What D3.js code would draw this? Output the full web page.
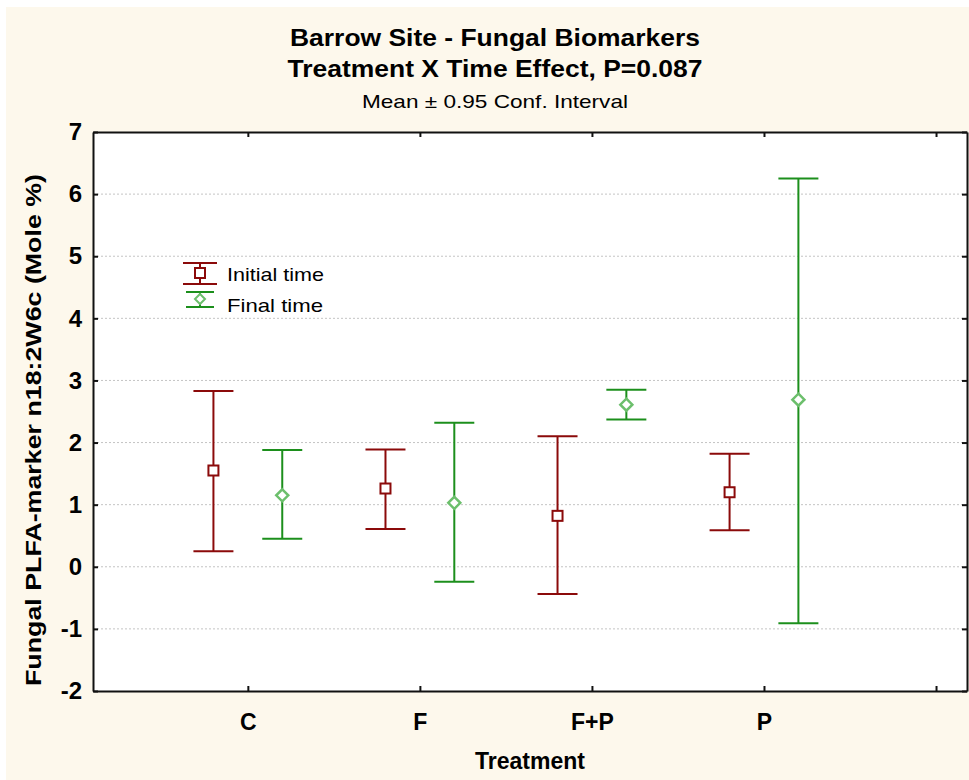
<!DOCTYPE html>
<html>
<head>
<meta charset="utf-8">
<script src="https://cdn.jsdelivr.net/npm/d3@7"></script>
<style>
  html, body { margin: 0; padding: 0; background: #fff; }
  svg { display: block; }
  text { font-family: Arial, "Liberation Sans", sans-serif; }
</style>
</head>
<body>
<svg id="chart" width="969" height="780"></svg>
<script>
// values
let categories = ["C", "F", "F+P", "P"];
let initialMean = [1.55, 1.26, 0.82, 1.20];
let initialLow = [0.25, 0.61, -0.44, 0.59];
let initialHigh = [2.83, 1.89, 2.10, 1.82];
let finalMean = [1.15, 1.03, 2.61, 2.69];
let finalLow = [0.45, -0.24, 2.37, -0.91];
let finalHigh = [1.88, 2.32, 2.85, 6.25];
let yTicks = [-2, -1, 0, 1, 2, 3, 4, 5, 6, 7];

let svg = d3.select("#chart"),
    width = 969,
    height = 780,
    margin = {top: 132, right: 2, bottom: 89, left: 93};

let red = "#8b0a0a", green = "#1c8f1c", lightGreen = "#6cbf6c";

// cream background with thin white edge on top / left
svg.append("rect").attr("x", 6).attr("y", 7)
    .attr("width", width - 6).attr("height", height - 7)
    .attr("fill", "#fdf8ec");

let x = d3.scaleLinear()
    .domain([0.1, 5.18])
    .range([margin.left, width - margin.right]);

let y = d3.scaleLinear()
    .domain([-2, 7])
    .range([height - margin.bottom, margin.top]);

let plotL = x.range()[0], plotR = x.range()[1],
    plotT = y.range()[1], plotB = y.range()[0];

svg.append("rect")
    .attr("x", plotL).attr("y", plotT)
    .attr("width", plotR - plotL).attr("height", plotB - plotT)
    .attr("fill", "#fff");

// grid
svg.append("g").selectAll("line")
    .data(yTicks.slice(1, -1))
    .join("line")
    .attr("x1", plotL).attr("x2", plotR)
    .attr("y1", d => y(d)).attr("y2", d => y(d))
    .attr("stroke", "#c4c4c4")
    .attr("stroke-dasharray", "2,2");

// axes
let catPos = [1, 2, 3, 4, 5];
svg.append("g")
    .attr("transform", `translate(0,${plotB})`)
    .call(d3.axisBottom(x).tickValues(catPos).tickSizeInner(-5).tickSizeOuter(0)
        .tickFormat(d => categories[d - 1] || ""))
    .call(g => g.selectAll("text").attr("dy", "1.55em")
        .attr("font-size", 23).attr("font-weight", "bold").attr("fill", "#000"));

svg.append("g")
    .attr("transform", `translate(0,${plotT})`)
    .call(d3.axisTop(x).tickValues(catPos).tickSizeInner(-5).tickSizeOuter(0).tickFormat(""));

svg.append("g")
    .attr("transform", `translate(${plotL},0)`)
    .call(d3.axisLeft(y).tickValues(yTicks).tickSizeInner(-5).tickSizeOuter(0).tickPadding(11)
        .tickFormat(d => String(d)))
    .call(g => g.selectAll("text")
        .attr("font-size", 24).attr("font-weight", "bold").attr("fill", "#000"));

svg.append("g")
    .attr("transform", `translate(${plotR},0)`)
    .call(d3.axisRight(y).tickValues(yTicks).tickSizeInner(-5).tickSizeOuter(0).tickFormat(""));

svg.selectAll(".domain").attr("stroke", "#111").attr("stroke-width", 2);
svg.selectAll(".tick line").attr("stroke", "#111").attr("stroke-width", 2);

// error bars
function drawSeries(mean, low, high, offset, color, marker) {
    let g = svg.append("g");
    let cap = 20;
    categories.forEach(function (c, i) {
        let cx = x(i + 1 + offset);
        g.append("line")
            .attr("x1", cx).attr("x2", cx)
            .attr("y1", y(low[i])).attr("y2", y(high[i]))
            .attr("stroke", color).attr("stroke-width", 2);
        [low[i], high[i]].forEach(function (v) {
            g.append("line")
                .attr("x1", cx - cap).attr("x2", cx + cap)
                .attr("y1", y(v)).attr("y2", y(v))
                .attr("stroke", color).attr("stroke-width", 2);
        });
        marker(g, cx, y(mean[i]));
    });
}

function squareMarker(g, cx, cy) {
    g.append("rect")
        .attr("x", cx - 5).attr("y", cy - 5)
        .attr("width", 10).attr("height", 10)
        .attr("fill", "#fff").attr("stroke", red).attr("stroke-width", 2);
}

function diamondMarker(g, cx, cy) {
    g.append("path")
        .attr("d", `M${cx},${cy - 6}L${cx + 6},${cy}L${cx},${cy + 6}L${cx - 6},${cy}Z`)
        .attr("fill", "#fff").attr("stroke", lightGreen).attr("stroke-width", 2.5);
}

drawSeries(initialMean, initialLow, initialHigh, -0.2, red, squareMarker);
drawSeries(finalMean, finalLow, finalHigh, 0.2, green, diamondMarker);

// legend
let legend = svg.append("g");
let lx = 200;
[[263, 284], [292, 307]].forEach(function (caps, k) {
    let color = k === 0 ? red : green;
    let hw = k === 0 ? 17 : 14;
    legend.append("line").attr("x1", lx).attr("x2", lx)
        .attr("y1", caps[0]).attr("y2", caps[1])
        .attr("stroke", color).attr("stroke-width", 2);
    caps.forEach(function (cy) {
        legend.append("line").attr("x1", lx - hw).attr("x2", lx + hw)
            .attr("y1", cy).attr("y2", cy)
            .attr("stroke", color).attr("stroke-width", 2);
    });
});
squareMarker(legend, lx, 273);
legend.append("path")
    .attr("d", `M${lx},294L${lx + 5},299L${lx},304L${lx - 5},299Z`)
    .attr("fill", "#fff").attr("stroke", lightGreen).attr("stroke-width", 2);
legend.append("text").attr("x", 227).attr("y", 281).attr("font-size", 19)
    .attr("textLength", 97).attr("lengthAdjust", "spacingAndGlyphs").text("Initial time");
legend.append("text").attr("x", 227).attr("y", 312).attr("font-size", 19)
    .attr("textLength", 96).attr("lengthAdjust", "spacingAndGlyphs").text("Final time");

// titles
let cxTitle = 495;
svg.append("text").attr("x", cxTitle).attr("y", 46)
    .attr("text-anchor", "middle").attr("font-size", 24).attr("font-weight", "bold")
    .attr("textLength", 410).attr("lengthAdjust", "spacingAndGlyphs")
    .text("Barrow Site - Fungal Biomarkers");
svg.append("text").attr("x", cxTitle).attr("y", 77)
    .attr("text-anchor", "middle").attr("font-size", 24).attr("font-weight", "bold")
    .attr("textLength", 415).attr("lengthAdjust", "spacingAndGlyphs")
    .text("Treatment X Time Effect, P=0.087");
svg.append("text").attr("x", cxTitle).attr("y", 108)
    .attr("text-anchor", "middle").attr("font-size", 19)
    .attr("textLength", 266).attr("lengthAdjust", "spacingAndGlyphs")
    .text("Mean ± 0.95 Conf. Interval");

svg.append("text").attr("x", 530).attr("y", 769)
    .attr("text-anchor", "middle").attr("font-size", 23).attr("font-weight", "bold")
    .text("Treatment");

svg.append("text")
    .attr("transform", "translate(41,430) rotate(-90)")
    .attr("text-anchor", "middle").attr("font-size", 22).attr("font-weight", "bold")
    .attr("textLength", 512).attr("lengthAdjust", "spacingAndGlyphs")
    .text("Fungal PLFA-marker n18:2W6c (Mole %)");
</script>
</body>
</html>
